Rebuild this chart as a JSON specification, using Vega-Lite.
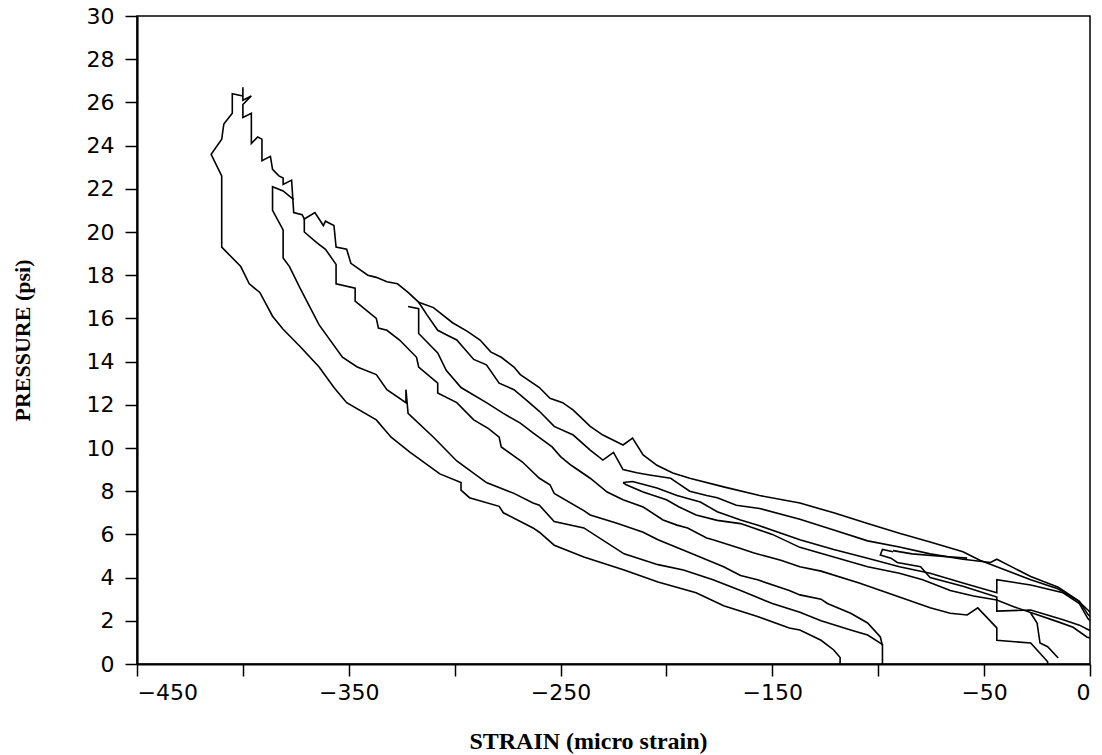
{
"$schema":"https://vega.github.io/schema/vega-lite/v6.json",
"width":953,"height":648,
"autosize":{"type":"none"},
"padding":{"left":137,"top":16,"right":12,"bottom":91},
"background":"white",
"config":{
 "view":{"stroke":"black","strokeWidth":1.5},
 "axis":{"domainColor":"black","domainWidth":2.2,"tickColor":"black","tickWidth":1.5,"tickSize":12,"grid":false,"labelColor":"black","titleColor":"black"}
},
"data":{"values":[
{"s":1,"i":0,"x":-400,"y":26.7},{"s":1,"i":1,"x":-400,"y":26.1},{"s":1,"i":2,"x":-396,"y":26.3},{"s":1,"i":3,"x":-400,"y":25.9},{"s":1,"i":4,"x":-400,"y":25.3},{"s":1,"i":5,"x":-396,"y":25.5},{"s":1,"i":6,"x":-396,"y":24.1},{"s":1,"i":7,"x":-393,"y":24.4},{"s":1,"i":8,"x":-391,"y":24.3},{"s":1,"i":9,"x":-391,"y":23.3},{"s":1,"i":10,"x":-387,"y":23.5},{"s":1,"i":11,"x":-386,"y":22.9},{"s":1,"i":12,"x":-383,"y":22.6},{"s":1,"i":13,"x":-381,"y":22.5},{"s":1,"i":14,"x":-381,"y":22.2},{"s":1,"i":15,"x":-377,"y":22.4},{"s":1,"i":16,"x":-376,"y":20.9},{"s":1,"i":17,"x":-372,"y":20.8},{"s":1,"i":18,"x":-371,"y":20.6},{"s":1,"i":19,"x":-366,"y":20.9},{"s":1,"i":20,"x":-362,"y":20.3},{"s":1,"i":21,"x":-361,"y":20.5},{"s":1,"i":22,"x":-357,"y":20.3},{"s":1,"i":23,"x":-356,"y":19.3},{"s":1,"i":24,"x":-351,"y":19.2},{"s":1,"i":25,"x":-349,"y":18.55},{"s":1,"i":26,"x":-341,"y":18.0},{"s":1,"i":27,"x":-337,"y":17.9},{"s":1,"i":28,"x":-332,"y":17.7},{"s":1,"i":29,"x":-327,"y":17.6},{"s":1,"i":30,"x":-322,"y":17.2},{"s":1,"i":31,"x":-317,"y":16.75},{"s":1,"i":32,"x":-310,"y":16.5},{"s":1,"i":33,"x":-301,"y":15.8},{"s":1,"i":34,"x":-294,"y":15.4},{"s":1,"i":35,"x":-288,"y":15.0},{"s":1,"i":36,"x":-283,"y":14.45},{"s":1,"i":37,"x":-278,"y":14.2},{"s":1,"i":38,"x":-272,"y":13.75},{"s":1,"i":39,"x":-269,"y":13.4},{"s":1,"i":40,"x":-260,"y":12.8},{"s":1,"i":41,"x":-255,"y":12.3},{"s":1,"i":42,"x":-249,"y":12.1},{"s":1,"i":43,"x":-244,"y":11.75},{"s":1,"i":44,"x":-236,"y":11.0},{"s":1,"i":45,"x":-230,"y":10.6},{"s":1,"i":46,"x":-220.5,"y":10.14},{"s":1,"i":47,"x":-216,"y":10.46},{"s":1,"i":48,"x":-211,"y":9.68},{"s":1,"i":49,"x":-204.5,"y":9.2},{"s":1,"i":50,"x":-197,"y":8.84},{"s":1,"i":51,"x":-189,"y":8.6},{"s":1,"i":52,"x":-173,"y":8.2},{"s":1,"i":53,"x":-156,"y":7.8},{"s":1,"i":54,"x":-137,"y":7.45},{"s":1,"i":55,"x":-121,"y":7.0},{"s":1,"i":56,"x":-105,"y":6.5},{"s":1,"i":57,"x":-90,"y":6.05},{"s":1,"i":58,"x":-75.5,"y":5.65},{"s":1,"i":59,"x":-60,"y":5.2},{"s":1,"i":60,"x":-52,"y":4.8},{"s":1,"i":61,"x":-40,"y":4.35},{"s":1,"i":62,"x":-28,"y":3.9},{"s":1,"i":63,"x":-15.6,"y":3.5},{"s":1,"i":64,"x":-6,"y":2.96},{"s":1,"i":65,"x":-1,"y":2.5},{"s":1,"i":66,"x":0,"y":2.4},
{"s":2,"i":0,"x":-317,"y":16.75},{"s":2,"i":1,"x":-313,"y":16.15},{"s":2,"i":2,"x":-308,"y":15.45},{"s":2,"i":3,"x":-303,"y":15.2},{"s":2,"i":4,"x":-299,"y":15.0},{"s":2,"i":5,"x":-291,"y":14.1},{"s":2,"i":6,"x":-285,"y":13.85},{"s":2,"i":7,"x":-279,"y":13.0},{"s":2,"i":8,"x":-272,"y":12.7},{"s":2,"i":9,"x":-266,"y":12.2},{"s":2,"i":10,"x":-260,"y":11.7},{"s":2,"i":11,"x":-253,"y":11.0},{"s":2,"i":12,"x":-244,"y":10.6},{"s":2,"i":13,"x":-236,"y":9.9},{"s":2,"i":14,"x":-230,"y":9.44},{"s":2,"i":15,"x":-225,"y":9.8},{"s":2,"i":16,"x":-220.5,"y":9.0},{"s":2,"i":17,"x":-214,"y":8.85},{"s":2,"i":18,"x":-208,"y":8.75},{"s":2,"i":19,"x":-198,"y":8.6},{"s":2,"i":20,"x":-195,"y":8.4},{"s":2,"i":21,"x":-189,"y":8.0},{"s":2,"i":22,"x":-181,"y":7.8},{"s":2,"i":23,"x":-176,"y":7.7},{"s":2,"i":24,"x":-167,"y":7.35},{"s":2,"i":25,"x":-156,"y":7.2},{"s":2,"i":26,"x":-137,"y":6.7},{"s":2,"i":27,"x":-121,"y":6.2},{"s":2,"i":28,"x":-105,"y":5.7},{"s":2,"i":29,"x":-90,"y":5.42},{"s":2,"i":30,"x":-75.5,"y":5.1},{"s":2,"i":31,"x":-60,"y":4.85},{"s":2,"i":32,"x":-47,"y":4.7},{"s":2,"i":33,"x":-44,"y":4.85},{"s":2,"i":34,"x":-36,"y":4.45},{"s":2,"i":35,"x":-28,"y":4.05},{"s":2,"i":36,"x":-15,"y":3.55},{"s":2,"i":37,"x":-5,"y":2.9},{"s":2,"i":38,"x":-1,"y":2.3},{"s":2,"i":39,"x":0,"y":2.2},
{"s":3,"i":0,"x":-220.5,"y":8.4},{"s":3,"i":1,"x":-216,"y":8.45},{"s":3,"i":2,"x":-204.5,"y":8.15},{"s":3,"i":3,"x":-195,"y":7.8},{"s":3,"i":4,"x":-184,"y":7.5},{"s":3,"i":5,"x":-176,"y":7.05},{"s":3,"i":6,"x":-165,"y":6.67},{"s":3,"i":7,"x":-156,"y":6.4},{"s":3,"i":8,"x":-137,"y":5.75},{"s":3,"i":9,"x":-121,"y":5.3},{"s":3,"i":10,"x":-105,"y":4.9},{"s":3,"i":11,"x":-90,"y":4.5},{"s":3,"i":12,"x":-75.5,"y":4.2},{"s":3,"i":13,"x":-60,"y":3.75},{"s":3,"i":14,"x":-44,"y":3.3},{"s":3,"i":15,"x":-44,"y":3.9},{"s":3,"i":16,"x":-28,"y":3.66},{"s":3,"i":17,"x":-12.7,"y":3.3},{"s":3,"i":18,"x":-5,"y":2.8},{"s":3,"i":19,"x":-1,"y":2.1},{"s":3,"i":20,"x":0,"y":2.0},
{"s":4,"i":0,"x":-220.5,"y":8.4},{"s":4,"i":1,"x":-219,"y":8.3},{"s":4,"i":2,"x":-211,"y":7.96},{"s":4,"i":3,"x":-200,"y":7.6},{"s":4,"i":4,"x":-194,"y":7.27},{"s":4,"i":5,"x":-186,"y":6.9},{"s":4,"i":6,"x":-176,"y":6.65},{"s":4,"i":7,"x":-165,"y":6.5},{"s":4,"i":8,"x":-150,"y":6.0},{"s":4,"i":9,"x":-137,"y":5.4},{"s":4,"i":10,"x":-121,"y":4.95},{"s":4,"i":11,"x":-105,"y":4.5},{"s":4,"i":12,"x":-90,"y":4.2},{"s":4,"i":13,"x":-79,"y":3.9},{"s":4,"i":14,"x":-66,"y":3.4},{"s":4,"i":15,"x":-55,"y":3.15},{"s":4,"i":16,"x":-44,"y":2.96},{"s":4,"i":17,"x":-36,"y":2.65},{"s":4,"i":18,"x":-27,"y":2.35},{"s":4,"i":19,"x":-15,"y":1.95},{"s":4,"i":20,"x":-8,"y":1.7},{"s":4,"i":21,"x":-1.5,"y":1.25},{"s":4,"i":22,"x":0,"y":1.2},
{"s":5,"i":0,"x":-322,"y":16.55},{"s":5,"i":1,"x":-317,"y":16.45},{"s":5,"i":2,"x":-317,"y":15.3},{"s":5,"i":3,"x":-308,"y":14.4},{"s":5,"i":4,"x":-304,"y":13.6},{"s":5,"i":5,"x":-297,"y":12.8},{"s":5,"i":6,"x":-285,"y":12.1},{"s":5,"i":7,"x":-277,"y":11.6},{"s":5,"i":8,"x":-269,"y":11.15},{"s":5,"i":9,"x":-263,"y":10.7},{"s":5,"i":10,"x":-254,"y":10.05},{"s":5,"i":11,"x":-250,"y":9.6},{"s":5,"i":12,"x":-245,"y":9.2},{"s":5,"i":13,"x":-236,"y":8.6},{"s":5,"i":14,"x":-228,"y":7.96},{"s":5,"i":15,"x":-220.5,"y":7.6},{"s":5,"i":16,"x":-211,"y":7.27},{"s":5,"i":17,"x":-201.6,"y":6.67},{"s":5,"i":18,"x":-195,"y":6.43},{"s":5,"i":19,"x":-190,"y":6.3},{"s":5,"i":20,"x":-181,"y":5.83},{"s":5,"i":21,"x":-178,"y":5.75},{"s":5,"i":22,"x":-165,"y":5.35},{"s":5,"i":23,"x":-159,"y":5.15},{"s":5,"i":24,"x":-146,"y":4.8},{"s":5,"i":25,"x":-137,"y":4.5},{"s":5,"i":26,"x":-127,"y":4.3},{"s":5,"i":27,"x":-109,"y":3.75},{"s":5,"i":28,"x":-90,"y":3.1},{"s":5,"i":29,"x":-75.5,"y":2.6},{"s":5,"i":30,"x":-66,"y":2.35},{"s":5,"i":31,"x":-58,"y":2.27},{"s":5,"i":32,"x":-53,"y":2.6},{"s":5,"i":33,"x":-44,"y":1.67},{"s":5,"i":34,"x":-44,"y":1.1},{"s":5,"i":35,"x":-28,"y":0.97},{"s":5,"i":36,"x":-23.6,"y":0.5},{"s":5,"i":37,"x":-20,"y":0.1},{"s":5,"i":38,"x":-20,"y":0},
{"s":6,"i":0,"x":-371,"y":20.6},{"s":6,"i":1,"x":-371,"y":20.0},{"s":6,"i":2,"x":-365,"y":19.5},{"s":6,"i":3,"x":-361,"y":19.2},{"s":6,"i":4,"x":-356,"y":18.5},{"s":6,"i":5,"x":-356,"y":17.6},{"s":6,"i":6,"x":-347,"y":17.4},{"s":6,"i":7,"x":-347,"y":16.8},{"s":6,"i":8,"x":-337,"y":16.0},{"s":6,"i":9,"x":-336,"y":15.55},{"s":6,"i":10,"x":-332,"y":15.45},{"s":6,"i":11,"x":-326,"y":15.0},{"s":6,"i":12,"x":-318,"y":14.2},{"s":6,"i":13,"x":-317,"y":13.75},{"s":6,"i":14,"x":-308,"y":13.0},{"s":6,"i":15,"x":-308,"y":12.55},{"s":6,"i":16,"x":-299,"y":12.1},{"s":6,"i":17,"x":-291,"y":11.3},{"s":6,"i":18,"x":-284,"y":10.9},{"s":6,"i":19,"x":-279,"y":10.5},{"s":6,"i":20,"x":-278,"y":10.05},{"s":6,"i":21,"x":-268,"y":9.35},{"s":6,"i":22,"x":-260,"y":8.6},{"s":6,"i":23,"x":-255,"y":8.3},{"s":6,"i":24,"x":-253,"y":7.9},{"s":6,"i":25,"x":-239,"y":7.1},{"s":6,"i":26,"x":-236,"y":6.9},{"s":6,"i":27,"x":-223,"y":6.5},{"s":6,"i":28,"x":-211,"y":6.1},{"s":6,"i":29,"x":-204,"y":5.75},{"s":6,"i":30,"x":-189,"y":5.15},{"s":6,"i":31,"x":-173,"y":4.5},{"s":6,"i":32,"x":-165,"y":4.1},{"s":6,"i":33,"x":-157,"y":3.9},{"s":6,"i":34,"x":-142,"y":3.4},{"s":6,"i":35,"x":-137,"y":3.2},{"s":6,"i":36,"x":-127,"y":3.0},{"s":6,"i":37,"x":-124,"y":2.8},{"s":6,"i":38,"x":-113,"y":2.35},{"s":6,"i":39,"x":-105,"y":1.9},{"s":6,"i":40,"x":-99,"y":1.25},{"s":6,"i":41,"x":-98,"y":0.85},
{"s":7,"i":0,"x":-376,"y":21.5},{"s":7,"i":1,"x":-381,"y":21.9},{"s":7,"i":2,"x":-386,"y":22.1},{"s":7,"i":3,"x":-386,"y":21.0},{"s":7,"i":4,"x":-381,"y":20.1},{"s":7,"i":5,"x":-381,"y":18.8},{"s":7,"i":6,"x":-378,"y":18.4},{"s":7,"i":7,"x":-373,"y":17.4},{"s":7,"i":8,"x":-364,"y":15.7},{"s":7,"i":9,"x":-353,"y":14.2},{"s":7,"i":10,"x":-346,"y":13.75},{"s":7,"i":11,"x":-337,"y":13.4},{"s":7,"i":12,"x":-332,"y":12.7},{"s":7,"i":13,"x":-323,"y":12.1},{"s":7,"i":14,"x":-323,"y":12.7},{"s":7,"i":15,"x":-322,"y":11.6},{"s":7,"i":16,"x":-310,"y":10.5},{"s":7,"i":17,"x":-299,"y":9.4},{"s":7,"i":18,"x":-285,"y":8.4},{"s":7,"i":19,"x":-272,"y":7.9},{"s":7,"i":20,"x":-263,"y":7.45},{"s":7,"i":21,"x":-260,"y":7.35},{"s":7,"i":22,"x":-253,"y":6.6},{"s":7,"i":23,"x":-239,"y":6.3},{"s":7,"i":24,"x":-220,"y":5.1},{"s":7,"i":25,"x":-204,"y":4.6},{"s":7,"i":26,"x":-192,"y":4.35},{"s":7,"i":27,"x":-178,"y":3.9},{"s":7,"i":28,"x":-165,"y":3.4},{"s":7,"i":29,"x":-150,"y":2.8},{"s":7,"i":30,"x":-137,"y":2.4},{"s":7,"i":31,"x":-127,"y":2.0},{"s":7,"i":32,"x":-113,"y":1.57},{"s":7,"i":33,"x":-105,"y":1.34},{"s":7,"i":34,"x":-99,"y":0.97},{"s":7,"i":35,"x":-98,"y":0.9},{"s":7,"i":36,"x":-98,"y":0},
{"s":8,"i":0,"x":-400,"y":26.3},{"s":8,"i":1,"x":-405,"y":26.4},{"s":8,"i":2,"x":-405,"y":25.5},{"s":8,"i":3,"x":-409,"y":25.0},{"s":8,"i":4,"x":-410,"y":24.3},{"s":8,"i":5,"x":-415,"y":23.6},{"s":8,"i":6,"x":-410,"y":22.6},{"s":8,"i":7,"x":-410,"y":19.3},{"s":8,"i":8,"x":-401,"y":18.4},{"s":8,"i":9,"x":-397,"y":17.6},{"s":8,"i":10,"x":-392,"y":17.2},{"s":8,"i":11,"x":-386,"y":16.1},{"s":8,"i":12,"x":-381,"y":15.5},{"s":8,"i":13,"x":-373,"y":14.7},{"s":8,"i":14,"x":-364,"y":13.75},{"s":8,"i":15,"x":-357,"y":12.8},{"s":8,"i":16,"x":-351,"y":12.1},{"s":8,"i":17,"x":-337,"y":11.3},{"s":8,"i":18,"x":-330,"y":10.5},{"s":8,"i":19,"x":-321,"y":9.8},{"s":8,"i":20,"x":-307,"y":8.8},{"s":8,"i":21,"x":-297,"y":8.4},{"s":8,"i":22,"x":-297,"y":8.05},{"s":8,"i":23,"x":-293,"y":7.7},{"s":8,"i":24,"x":-279,"y":7.3},{"s":8,"i":25,"x":-277,"y":7.0},{"s":8,"i":26,"x":-263,"y":6.3},{"s":8,"i":27,"x":-260,"y":6.1},{"s":8,"i":28,"x":-253,"y":5.5},{"s":8,"i":29,"x":-239,"y":4.95},{"s":8,"i":30,"x":-220,"y":4.35},{"s":8,"i":31,"x":-204,"y":3.8},{"s":8,"i":32,"x":-186,"y":3.3},{"s":8,"i":33,"x":-173,"y":2.7},{"s":8,"i":34,"x":-157,"y":2.2},{"s":8,"i":35,"x":-142,"y":1.67},{"s":8,"i":36,"x":-137,"y":1.57},{"s":8,"i":37,"x":-127,"y":1.1},{"s":8,"i":38,"x":-121,"y":0.65},{"s":8,"i":39,"x":-118,"y":0.3},{"s":8,"i":40,"x":-118,"y":0},
{"s":9,"i":0,"x":-93,"y":5.2},{"s":9,"i":1,"x":-98,"y":5.3},{"s":9,"i":2,"x":-99,"y":5.05},{"s":9,"i":3,"x":-94,"y":4.9},{"s":9,"i":4,"x":-91,"y":4.7},{"s":9,"i":5,"x":-80,"y":4.5},{"s":9,"i":6,"x":-75.5,"y":4.0},{"s":9,"i":7,"x":-60,"y":3.6},{"s":9,"i":8,"x":-44,"y":3.1},{"s":9,"i":9,"x":-44,"y":2.45},{"s":9,"i":10,"x":-28,"y":2.5},{"s":9,"i":11,"x":-12.7,"y":2.05},{"s":9,"i":12,"x":-5,"y":1.8},{"s":9,"i":13,"x":-1,"y":1.6},{"s":9,"i":14,"x":0,"y":1.55},
{"s":10,"i":0,"x":-93,"y":5.25},{"s":10,"i":1,"x":-84,"y":5.1},{"s":10,"i":2,"x":-72,"y":5.0},{"s":10,"i":3,"x":-58,"y":4.9},
{"s":11,"i":0,"x":-28,"y":2.36},{"s":11,"i":1,"x":-25,"y":1.9},{"s":11,"i":2,"x":-23.6,"y":0.97},{"s":11,"i":3,"x":-20,"y":0.8},{"s":11,"i":4,"x":-15,"y":0.28}
]},
"mark":{"type":"line","color":"black","strokeWidth":1.6},
"encoding":{
 "x":{"field":"x","type":"quantitative","scale":{"domain":[-450,0],"nice":false,"zero":false},
  "axis":{"values":[-450,-400,-350,-300,-250,-200,-150,-100,-50,0],"labelExpr":"datum.value == 0 || abs(datum.value) % 100 == 50 ? datum.label : ''","labelFont":"DejaVu Sans","labelFontSize":22,"labelPadding":6,"title":"STRAIN (micro strain)","titleFont":"Liberation Serif","titleFontWeight":"bold","titleFontSize":24,"titleX":451,"titleY":84,"titleBaseline":"alphabetic","titleAlign":"center"}},
 "y":{"field":"y","type":"quantitative","scale":{"domain":[0,30],"nice":false,"zero":false},
  "axis":{"values":[0,2,4,6,8,10,12,14,16,18,20,22,24,26,28,30],"labelFont":"DejaVu Sans","labelFontSize":22,"labelPadding":11,"title":"PRESSURE (psi)","titleFont":"Liberation Serif","titleFontWeight":"bold","titleFontSize":22,"titleX":-115,"titleY":324,"titleAngle":270,"titleBaseline":"middle","titleAlign":"center"}},
 "detail":{"field":"s","type":"nominal"},
 "order":{"field":"i","type":"quantitative"}
}
}
